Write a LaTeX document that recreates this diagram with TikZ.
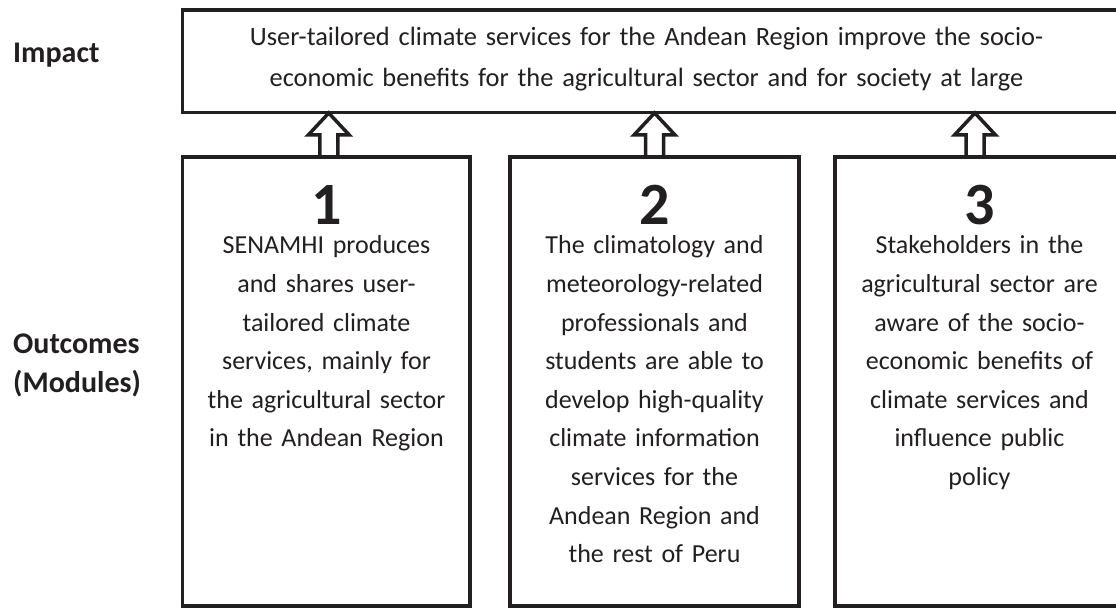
\documentclass[tikz,border=0pt]{standalone}
\usepackage{fontspec}
\setmainfont{Carlito}
\usetikzlibrary{calc}
\definecolor{ink}{HTML}{231F20}
\tikzset{
  frame/.style={draw=ink, line width=3.5pt, fill=white, inner sep=0pt, outer sep=0pt, line join=miter},
  blockarr/.style={draw=ink, line width=3.5pt, fill=white, line join=miter},
  body/.style={text=ink, inner sep=0pt, anchor=base, align=center, text width=285pt, font=\fontsize{26}{38.6}\selectfont},
  num/.style={text=ink, inner sep=0pt, anchor=base, text height=39pt, text depth=0pt, font=\fontsize{60}{60}\selectfont\bfseries},
  side/.style={text=ink, inner sep=0pt, anchor=base west, align=left, font=\fontsize{30}{39}\selectfont\bfseries},
}
\begin{document}
\begin{tikzpicture}[x=1pt, y=-1pt]
\useasboundingbox (0,0) rectangle (1116,609);
\clip (0,0) rectangle (1116,609);
% impact box
\node[frame, minimum width=950pt, minimum height=102.5pt] (impact) at (657.5,61.25) {};
\node[body, text width=900pt, font=\fontsize{26.4}{41}\selectfont] (impacttext) at (646.5,45.5)
  {User-tailored climate services for the Andean Region improve the socio-\\economic benefits for the agricultural sector and for society at large};
% module boxes
\node[frame, minimum width=287.5pt, minimum height=449pt] (m1) at (326.25,381.5) {};
\node[frame, minimum width=289pt, minimum height=449pt] (m2) at (654.5,381.5) {};
\node[frame, minimum width=289pt, minimum height=449pt] (m3) at (979.5,381.5) {};
% numbers
\node[num] (n1) at (326.5,225) {1};
\node[num] (n2) at (654.5,225) {2};
\node[num] (n3) at (979.5,225) {3};
% texts
\node[body] (t1) at (326.5,254) {SENAMHI produces\\and shares user-\\tailored climate\\services, mainly for\\the agricultural sector\\in the Andean Region};
\node[body] (t2) at (654.5,254) {The climatology and\\meteorology-related\\professionals and\\students are able to\\develop high-quality\\climate information\\services for the\\Andean Region and\\the rest of Peru};
\node[body] (t3) at (979.5,254) {Stakeholders in the\\agricultural sector are\\aware of the socio-\\economic benefits of\\climate services and\\influence public\\policy};
% side labels
\node[side] (limpact) at (13,63) {Impact};
\node[side] (lout) at (13,392) {Outcomes\\(Modules)};
% arrows
\foreach \m/\dx in {m1/2.5, m2/0, m3/-4.5} {
  \draw[blockarr] ($(\m.north)+(\dx-9,0)$) -- ++(0,-22) -- ++(-11.5,0) -- ++(20.5,-22) -- ++(20.5,22) -- ++(-11.5,0) -- ++(0,22) -- cycle;
}
\end{tikzpicture}
\end{document}
